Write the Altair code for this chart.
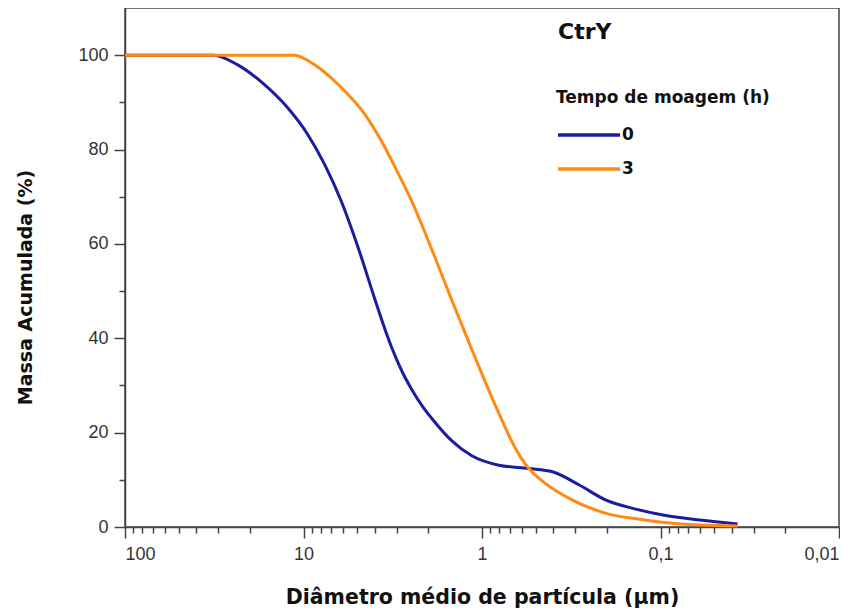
import altair as alt
import pandas as pd

# Cumulative mass (%) vs. mean particle diameter (um)
diam_0h = [100, 31.8, 23.5, 16.6, 12.3, 9.47, 7.63, 6.15, 4.95, 4.0, 3.6, 3.21, 2.8,
           2.48, 2.15, 1.91, 1.48, 1.14, 0.805, 0.546, 0.403, 0.285, 0.202, 0.143,
           0.0968, 0.060, 0.037]
mass_0h = [100, 100, 98.0, 93.8, 88.9, 83.2, 76.9, 69.1, 59.3, 48.5, 43.3, 38.1, 32.9,
           29.2, 25.5, 23.0, 18.3, 15.1, 13.1, 12.4, 11.7, 8.9, 5.7, 3.95,
           2.54, 1.48, 0.63]

diam_3h = [100, 11.3, 8.69, 7.0, 5.64, 4.54, 3.66, 3.0, 2.48, 1.91, 1.48, 1.14,
           0.95, 0.80, 0.678, 0.60, 0.546, 0.44, 0.311, 0.202, 0.131, 0.093, 0.060, 0.037]
mass_3h = [100, 100, 98.0, 95.2, 91.7, 87.5, 81.8, 75.5, 69.1, 58.8, 48.2, 37.6,
           30.4, 23.9, 18.0, 14.5, 12.4, 9.2, 5.7, 2.9, 1.62, 0.9, 0.42, 0.2]

series_names = ["0", "3"]
series_colors = ["#1c1c9e", "#ff8a14"]

x_major = [100, 10, 1, 0.1, 0.01]
x_major_labels = ["100", "10", "1", "0,1", "0,01"]
y_ticks = list(range(0, 101, 10))

rows = [{"d": d, "m": m, "t": "0"} for d, m in zip(diam_0h, mass_0h)]
rows += [{"d": d, "m": m, "t": "3"} for d, m in zip(diam_3h, mass_3h)]
df = pd.DataFrame(rows)

x_ticks = sorted({round(k * 10.0 ** e, 4) for e in (-2, -1, 0, 1) for k in range(1, 10)} | {100})
label_expr = " : ".join(
    f"datum.value == {v} ? '{lab}'" for v, lab in zip(x_major, x_major_labels)
) + " : ''"
major_test = "indexof([" + ",".join(str(v) for v in x_major) + "], datum.value) >= 0"

AX = "#444444"

x_axis = alt.Axis(
    values=x_ticks,
    labelExpr=label_expr,
    labelOverlap=False,
    tickSize={"condition": {"test": major_test, "value": 11}, "value": 6},
    tickColor=AX, tickWidth=1.5, domainColor=AX, domainWidth=1.5,
    labelFont="Liberation Sans", labelFontSize=18, labelColor="#333333", labelPadding=7,
    title="Diâmetro médio de partícula (μm)",
    titleFont="DejaVu Sans", titleFontSize=20.5, titleFontWeight="bold",
    titleColor="#111111", titlePadding=24,
    grid=False,
)

y_axis = alt.Axis(
    values=y_ticks,
    labelExpr="datum.value % 20 == 0 ? datum.label : ''",
    tickSize={"condition": {"test": "datum.value % 20 == 0", "value": 11}, "value": 6},
    tickColor=AX, tickWidth=1.5, domainColor=AX, domainWidth=1.5,
    labelFont="Liberation Sans", labelFontSize=18, labelColor="#333333", labelPadding=6,
    title="Massa Acumulada (%)",
    titleFont="DejaVu Sans", titleFontSize=19, titleFontWeight="bold",
    titleColor="#111111", titlePadding=42, titleY=279,
    grid=False,
)

lines = alt.Chart(df).mark_line(interpolate="monotone", strokeWidth=3).encode(
    x=alt.X("d:Q", scale=alt.Scale(type="log", domain=[0.01, 100], reverse=True, nice=False), axis=x_axis),
    y=alt.Y("m:Q", scale=alt.Scale(domain=[0, 110], nice=False), axis=y_axis),
    color=alt.Color(
        "t:N",
        scale=alt.Scale(domain=series_names, range=series_colors),
        legend=alt.Legend(
            orient="none", legendX=431, legendY=82, padding=0,
            title="Tempo de moagem (h)", titleLimit=400,
            titleFont="DejaVu Sans", titleFontSize=17, titleFontWeight="bold",
            titleColor="#111111", titlePadding=9,
            labelFont="DejaVu Sans", labelFontSize=17, labelFontWeight="bold",
            labelColor="#111111", labelOffset=28,
            symbolType="M-1,0H2.65", symbolSize=1156, symbolStrokeWidth=3.5,
            rowPadding=7,
        ),
    ),
    order=alt.Order("d:Q", sort="descending"),
)

caption = alt.Chart(pd.DataFrame({"label": ["CtrY"]})).mark_text(
    align="left", baseline="alphabetic", font="DejaVu Sans", fontSize=22,
    fontWeight="bold", color="#111111",
).encode(x=alt.value(433), y=alt.value(31), text="label:N")

chart = alt.layer(lines, caption).properties(
    width=714, height=519,
    padding={"left": 8, "top": 0, "right": 0, "bottom": 0},
).configure_view(stroke=AX, strokeWidth=1.5)

chart.save("out.html", embed_options={"renderer": "svg", "actions": False})
